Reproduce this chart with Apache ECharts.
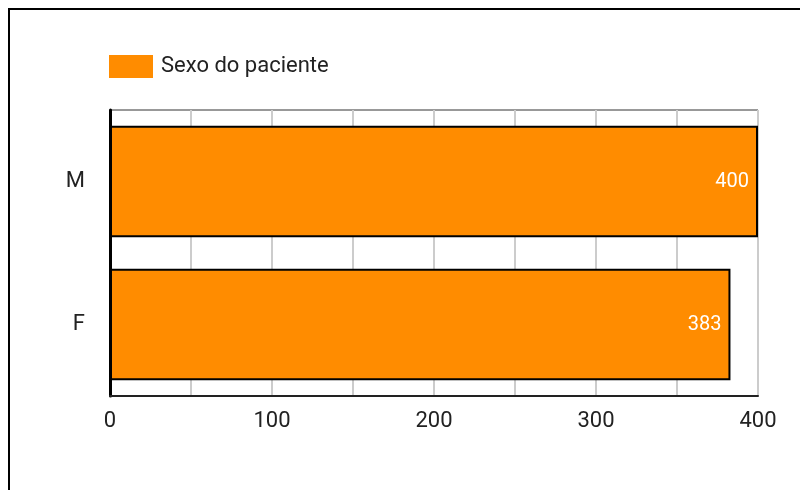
<!DOCTYPE html>
<html>
<head>
<meta charset="utf-8">
<script src="https://cdn.jsdelivr.net/npm/echarts@6/dist/echarts.min.js"></script>
<style>html,body{margin:0;padding:0;background:#fff}#c{width:800px;height:490px}</style>
</head>
<body>
<div id="c"></div>
<script>
var categories = ['F', 'M'];
var values = [383, 400];
var seriesName = 'Sexo do paciente';
var xTicks = [0, 100, 200, 300, 400];

var chart = echarts.init(document.getElementById('c'));
chart.setOption({
  animation: false,
  textStyle: {fontFamily: 'Roboto'},
  graphic: [{
    type: 'rect', silent: true, z: -10,
    shape: {x: 9, y: 9, width: 900, height: 600},
    style: {fill: 'none', stroke: '#000', lineWidth: 2}
  }],
  legend: {
    left: 104, top: 50, itemWidth: 44, itemHeight: 23, itemGap: 10,
    icon: 'rect',
    itemStyle: {borderWidth: 0},
    textStyle: {fontSize: 22, color: '#222', fontFamily: 'Roboto', padding: [2, 0, 0, 3]},
    data: [seriesName]
  },
  grid: {left: 110, right: 42, top: 110, bottom: 94, show: true, borderColor: '#333', borderWidth: 1},
  xAxis: {
    type: 'value', min: 0, max: 400, interval: 50,
    axisLine: {show: true, lineStyle: {color: '#222', width: 2}},
    axisTick: {show: false},
    splitLine: {show: true, lineStyle: {color: '#ccc', width: 2}},
    axisLabel: {
      fontSize: 22, color: '#222', margin: 14, fontFamily: 'Roboto',
      formatter: function (v) { return xTicks.indexOf(v) >= 0 ? String(v) : ''; }
    }
  },
  yAxis: {
    type: 'category', data: categories,
    axisLine: {show: true, lineStyle: {color: '#000', width: 3}},
    axisTick: {show: false},
    axisLabel: {fontSize: 22, color: '#222', margin: 25, fontFamily: 'Roboto'}
  },
  series: [{
    name: seriesName, type: 'bar', data: values,
    barCategoryGap: '22%',
    itemStyle: {color: '#ff8c00', borderColor: '#000', borderWidth: 2},
    label: {show: true, position: 'insideRight', color: '#fff', fontSize: 20, distance: 9, fontFamily: 'Roboto'}
  }]
});
</script>
</body>
</html>
